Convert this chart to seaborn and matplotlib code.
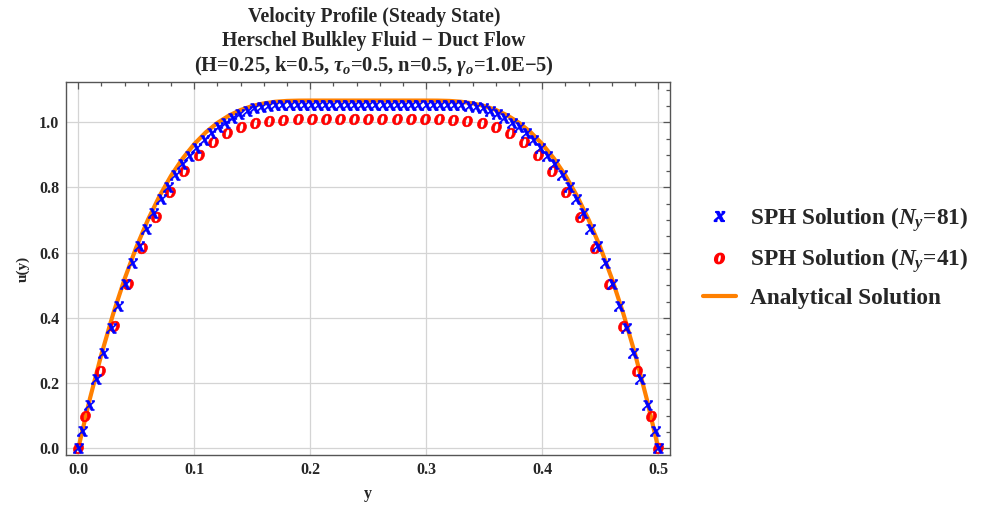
import numpy as np
import pandas as pd
import matplotlib
matplotlib.use("Agg")
import matplotlib.pyplot as plt
import seaborn as sns
from matplotlib.lines import Line2D
from matplotlib.ticker import MultipleLocator, FormatStrFormatter

# ---------------- data ----------------
# SPH solution, Ny = 81 (wall points at 0 and 0.5 included)
y81 = [0.0, 0.0031, 0.0093, 0.0154, 0.0216, 0.0278, 0.0340, 0.0401, 0.0463, 0.0525, 0.0586,
       0.0648, 0.0710, 0.0772, 0.0833, 0.0895, 0.0957, 0.1019, 0.1080, 0.1142, 0.1204,
       0.1265, 0.1327, 0.1389, 0.1451, 0.1512, 0.1574, 0.1636, 0.1698, 0.1759, 0.1821,
       0.1883, 0.1944, 0.2006, 0.2068, 0.2130, 0.2191, 0.2253, 0.2315, 0.2377, 0.2438,
       0.2500, 0.2562, 0.2623, 0.2685, 0.2747, 0.2809, 0.2870, 0.2932, 0.2994, 0.3056,
       0.3117, 0.3179, 0.3241, 0.3302, 0.3364, 0.3426, 0.3488, 0.3549, 0.3611, 0.3673,
       0.3735, 0.3796, 0.3858, 0.3920, 0.3981, 0.4043, 0.4105, 0.4167, 0.4228, 0.4290,
       0.4352, 0.4414, 0.4475, 0.4537, 0.4599, 0.4660, 0.4722, 0.4784, 0.4846, 0.4907,
       0.4969, 0.5]
u81 = [0.0, 0.053, 0.132, 0.212, 0.291, 0.368, 0.437, 0.504, 0.567, 0.621, 0.672,
       0.721, 0.764, 0.802, 0.838, 0.871, 0.898, 0.922, 0.945, 0.966, 0.985,
       0.999, 1.012, 1.025, 1.035, 1.043, 1.048, 1.051, 1.052, 1.053, 1.053,
       1.053, 1.053, 1.053, 1.053, 1.053, 1.053, 1.053, 1.053, 1.053, 1.053,
       1.053, 1.053, 1.053, 1.053, 1.053, 1.053, 1.053, 1.053, 1.053, 1.053,
       1.053, 1.053, 1.053, 1.052, 1.051, 1.048, 1.043, 1.035, 1.025, 1.012,
       0.999, 0.985, 0.966, 0.945, 0.922, 0.898, 0.871, 0.838, 0.802, 0.764,
       0.721, 0.672, 0.621, 0.567, 0.504, 0.437, 0.368, 0.291, 0.212, 0.132,
       0.053, 0.0]

# SPH solution, Ny = 41
y41 = [0.0, 0.0061, 0.0183, 0.0305, 0.0427, 0.0549, 0.0671, 0.0793, 0.0915, 0.1037, 0.1159,
       0.1280, 0.1402, 0.1524, 0.1646, 0.1768, 0.1890, 0.2012, 0.2134, 0.2256, 0.2378,
       0.2500, 0.2622, 0.2744, 0.2866, 0.2988, 0.3110, 0.3232, 0.3354, 0.3476, 0.3598,
       0.3720, 0.3841, 0.3963, 0.4085, 0.4207, 0.4329, 0.4451, 0.4573, 0.4695, 0.4817,
       0.4939, 0.5]
u41 = [0.0, 0.100, 0.238, 0.376, 0.503, 0.614, 0.708, 0.787, 0.851, 0.901, 0.939,
       0.966, 0.985, 0.998, 1.005, 1.008, 1.009, 1.009, 1.009, 1.009, 1.009,
       1.009, 1.009, 1.009, 1.009, 1.009, 1.009, 1.008, 1.005, 0.998, 0.985,
       0.966, 0.939, 0.901, 0.851, 0.787, 0.708, 0.614, 0.503, 0.376, 0.238,
       0.100, 0.0]

# Analytical solution
y_an = [0.00, 0.01, 0.02, 0.03, 0.04, 0.05, 0.06, 0.07, 0.08, 0.09, 0.10,
        0.11, 0.12, 0.13, 0.14, 0.15, 0.16, 0.17, 0.18, 0.19, 0.20,
        0.21, 0.22, 0.23, 0.24, 0.25, 0.26, 0.27, 0.28, 0.29, 0.30,
        0.31, 0.32, 0.33, 0.34, 0.35, 0.36, 0.37, 0.38, 0.39, 0.40,
        0.41, 0.42, 0.43, 0.44, 0.45, 0.46, 0.47, 0.48, 0.49, 0.50]
u_an = [0.0, 0.1521, 0.2891, 0.4116, 0.5205, 0.6167, 0.7008, 0.7737, 0.8363, 0.8892, 0.9333,
        0.9695, 0.9984, 1.0209, 1.0379, 1.0500, 1.0581, 1.0631, 1.0656, 1.0665, 1.0667,
        1.0667, 1.0667, 1.0667, 1.0667, 1.0667, 1.0667, 1.0667, 1.0667, 1.0667, 1.0667,
        1.0665, 1.0656, 1.0631, 1.0581, 1.0500, 1.0379, 1.0209, 0.9984, 0.9695, 0.9333,
        0.8892, 0.8363, 0.7737, 0.7008, 0.6167, 0.5205, 0.4116, 0.2891, 0.1521, 0.0]

x_ticks = [0.0, 0.1, 0.2, 0.3, 0.4, 0.5]
y_ticks = [0.0, 0.2, 0.4, 0.6, 0.8, 1.0]

labels = ["SPH Solution ($N_y$=81)", "SPH Solution ($N_y$=41)", "Analytical Solution"]
title_lines = ["Velocity Profile (Steady State)",
               "Herschel Bulkley Fluid \u2212 Duct Flow",
               r"(H=0.25, k=0.5, $\tau_o$=0.5, n=0.5, $\gamma_o$=1.0E$-$5)"]

# ---------------- style ----------------
sns.set_theme(style="white")
plt.rcParams["font.family"] = ["Liberation Serif", "DejaVu Serif"]
plt.rcParams["font.weight"] = "bold"
plt.rcParams["mathtext.fontset"] = "custom"
plt.rcParams["mathtext.rm"] = "Liberation Serif:bold"
plt.rcParams["mathtext.it"] = "Liberation Serif:italic:bold"
plt.rcParams["mathtext.bf"] = "Liberation Serif:bold"

ORANGE = "#FF8000"
FRAME = "#555555"

fig = plt.figure(figsize=(9.87, 5.07), dpi=100)
ax = fig.add_axes([66 / 987, 1 - 455 / 507, (670 - 66) / 987, (455 - 82) / 507])

df_an = pd.DataFrame({"y": y_an, "u": u_an})
df81 = pd.DataFrame({"y": y81, "u": u81})
df41 = pd.DataFrame({"y": y41, "u": u41})

sns.lineplot(data=df_an, x="y", y="u", color=ORANGE, linewidth=3.0, estimator=None,
             ax=ax, zorder=2, legend=False)
sns.scatterplot(data=df41, x="y", y="u", marker="$o$", s=58, color="red",
                edgecolor="red", linewidth=0.5, ax=ax, zorder=3, legend=False)
sns.scatterplot(data=df81, x="y", y="u", marker="$x$", s=55, color="blue",
                edgecolor="blue", linewidth=0.5, ax=ax, zorder=4, legend=False)

ax.set_xlim(-0.0106, 0.5101)
ax.set_ylim(-0.0206, 1.1236)
ax.set_xticks(x_ticks)
ax.set_yticks(y_ticks)
ax.xaxis.set_minor_locator(MultipleLocator(0.02))
ax.yaxis.set_minor_locator(MultipleLocator(0.05))
ax.xaxis.set_major_formatter(FormatStrFormatter("%.1f"))
ax.yaxis.set_major_formatter(FormatStrFormatter("%.1f"))
ax.tick_params(which="both", direction="in", top=True, right=True, color=FRAME, width=0.9)
ax.tick_params(which="major", length=5, labelsize=11.5, pad=5)
ax.tick_params(which="minor", length=2.6)
for lab in ax.get_xticklabels() + ax.get_yticklabels():
    lab.set_fontweight("bold")
ax.grid(True, which="major", color="#d4d4d4", linewidth=0.9)
ax.set_axisbelow(True)
for sp in ax.spines.values():
    sp.set_color(FRAME)
    sp.set_linewidth(1.0)

ax.set_xlabel("y", fontsize=11.5, fontweight="bold")
ax.set_ylabel("u(y)", fontsize=11, fontweight="bold")
ax.xaxis.label.set_va("center")
ax.yaxis.label.set_va("center")
ax.xaxis.set_label_coords((368 - 66) / 604, (455 - 494) / 373)
ax.yaxis.set_label_coords((23 - 66) / 604, 0.5)

# title (three lines)
for txt, ypx, fs in zip(title_lines, [17, 41, 66], [14.2, 14.2, 14.8]):
    fig.text(374 / 987, 1 - ypx / 507, txt, ha="center", va="center",
             fontsize=fs, fontweight="bold")

handles = [Line2D([], [], marker="$x$", color="blue", linestyle="none", markersize=7.5),
           Line2D([], [], marker="$o$", color="red", linestyle="none", markersize=7.5),
           Line2D([], [], color=ORANGE, linewidth=3.0)]
fig.legend(handles, labels, loc="center left", bbox_to_anchor=(703 / 987, 1 - 257 / 507),
           frameon=False, prop={"size": 16.8, "weight": "bold"}, handlelength=1.4,
           handletextpad=0.62, labelspacing=0.55, borderpad=0, borderaxespad=0)

fig.savefig("out.png", dpi=100)
